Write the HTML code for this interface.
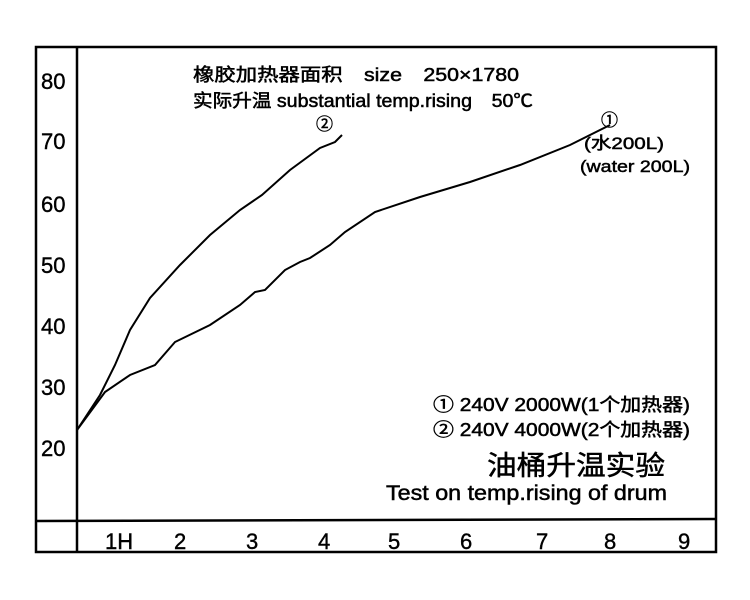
<!DOCTYPE html>
<html><head><meta charset="utf-8"><style>
body{margin:0;background:#fff;}
svg{display:block;}
text{font-family:"Liberation Sans","Noto Sans CJK SC",sans-serif;fill:#000;}
</style></head><body>
<svg width="750" height="600" viewBox="0 0 750 600">
<rect x="36" y="47" width="680" height="505" fill="none" stroke="#000" stroke-width="2.5"/>
<line x1="77" y1="47" x2="77" y2="552" stroke="#000" stroke-width="2.5"/>
<line x1="36" y1="521" x2="716" y2="519" stroke="#000" stroke-width="2.5"/>
<g font-size="22" stroke="#000" stroke-width="0.4">
<text x="41" y="89">80</text><text x="41" y="149">70</text><text x="41" y="212">60</text><text x="41" y="273">50</text><text x="41" y="334">40</text><text x="41" y="395">30</text><text x="41" y="456">20</text>
<text x="105" y="549">1H</text><text x="174" y="549">2</text><text x="246" y="549">3</text><text x="318" y="549">4</text><text x="388" y="549">5</text><text x="460" y="549">6</text><text x="536" y="549">7</text><text x="604" y="549">8</text><text x="678" y="549">9</text>
</g>
<g stroke="#000" stroke-width="0.5">
<text x="193" y="81" font-size="18" textLength="326" lengthAdjust="spacingAndGlyphs">橡胶加热器面积　size　250×1780</text>
<text x="193" y="107" font-size="18" textLength="340" lengthAdjust="spacingAndGlyphs">实际升温 substantial temp.rising　50℃</text>
<text x="316" y="130" font-size="17">②</text>
<text x="601" y="126" font-size="17">①</text>
<text x="584" y="149" font-size="17" textLength="80" lengthAdjust="spacingAndGlyphs">(水200L)</text>
<text x="580" y="172" font-size="17" textLength="110" lengthAdjust="spacingAndGlyphs">(water 200L)</text>
<text x="433" y="411" font-size="18" textLength="257" lengthAdjust="spacingAndGlyphs">① 240V 2000W(1个加热器)</text>
<text x="433" y="436" font-size="18" textLength="257" lengthAdjust="spacingAndGlyphs">② 240V 4000W(2个加热器)</text>
<text x="487" y="475" font-size="27" textLength="178" lengthAdjust="spacingAndGlyphs">油桶升温实验</text>
<text x="386" y="500" font-size="21" textLength="281" lengthAdjust="spacingAndGlyphs">Test on temp.rising of drum</text>
</g>
<g fill="none" stroke="#000" stroke-width="2">
<path d="M77,430 L100,395 L115,365 L130,330 L150,298 L180,265 L210,235 L240,210 L262,195 L290,170 L320,148 L335,142 L342,135"/>
<path d="M77,430 L105,392 L130,375 L155,365 L175,342 L210,325 L240,305 L255,292 L265,290 L285,270 L300,262 L310,258 L330,245 L345,232 L375,212 L420,197 L470,182 L520,165 L570,145 L610,125"/>
</g>
</svg>
</body></html>
